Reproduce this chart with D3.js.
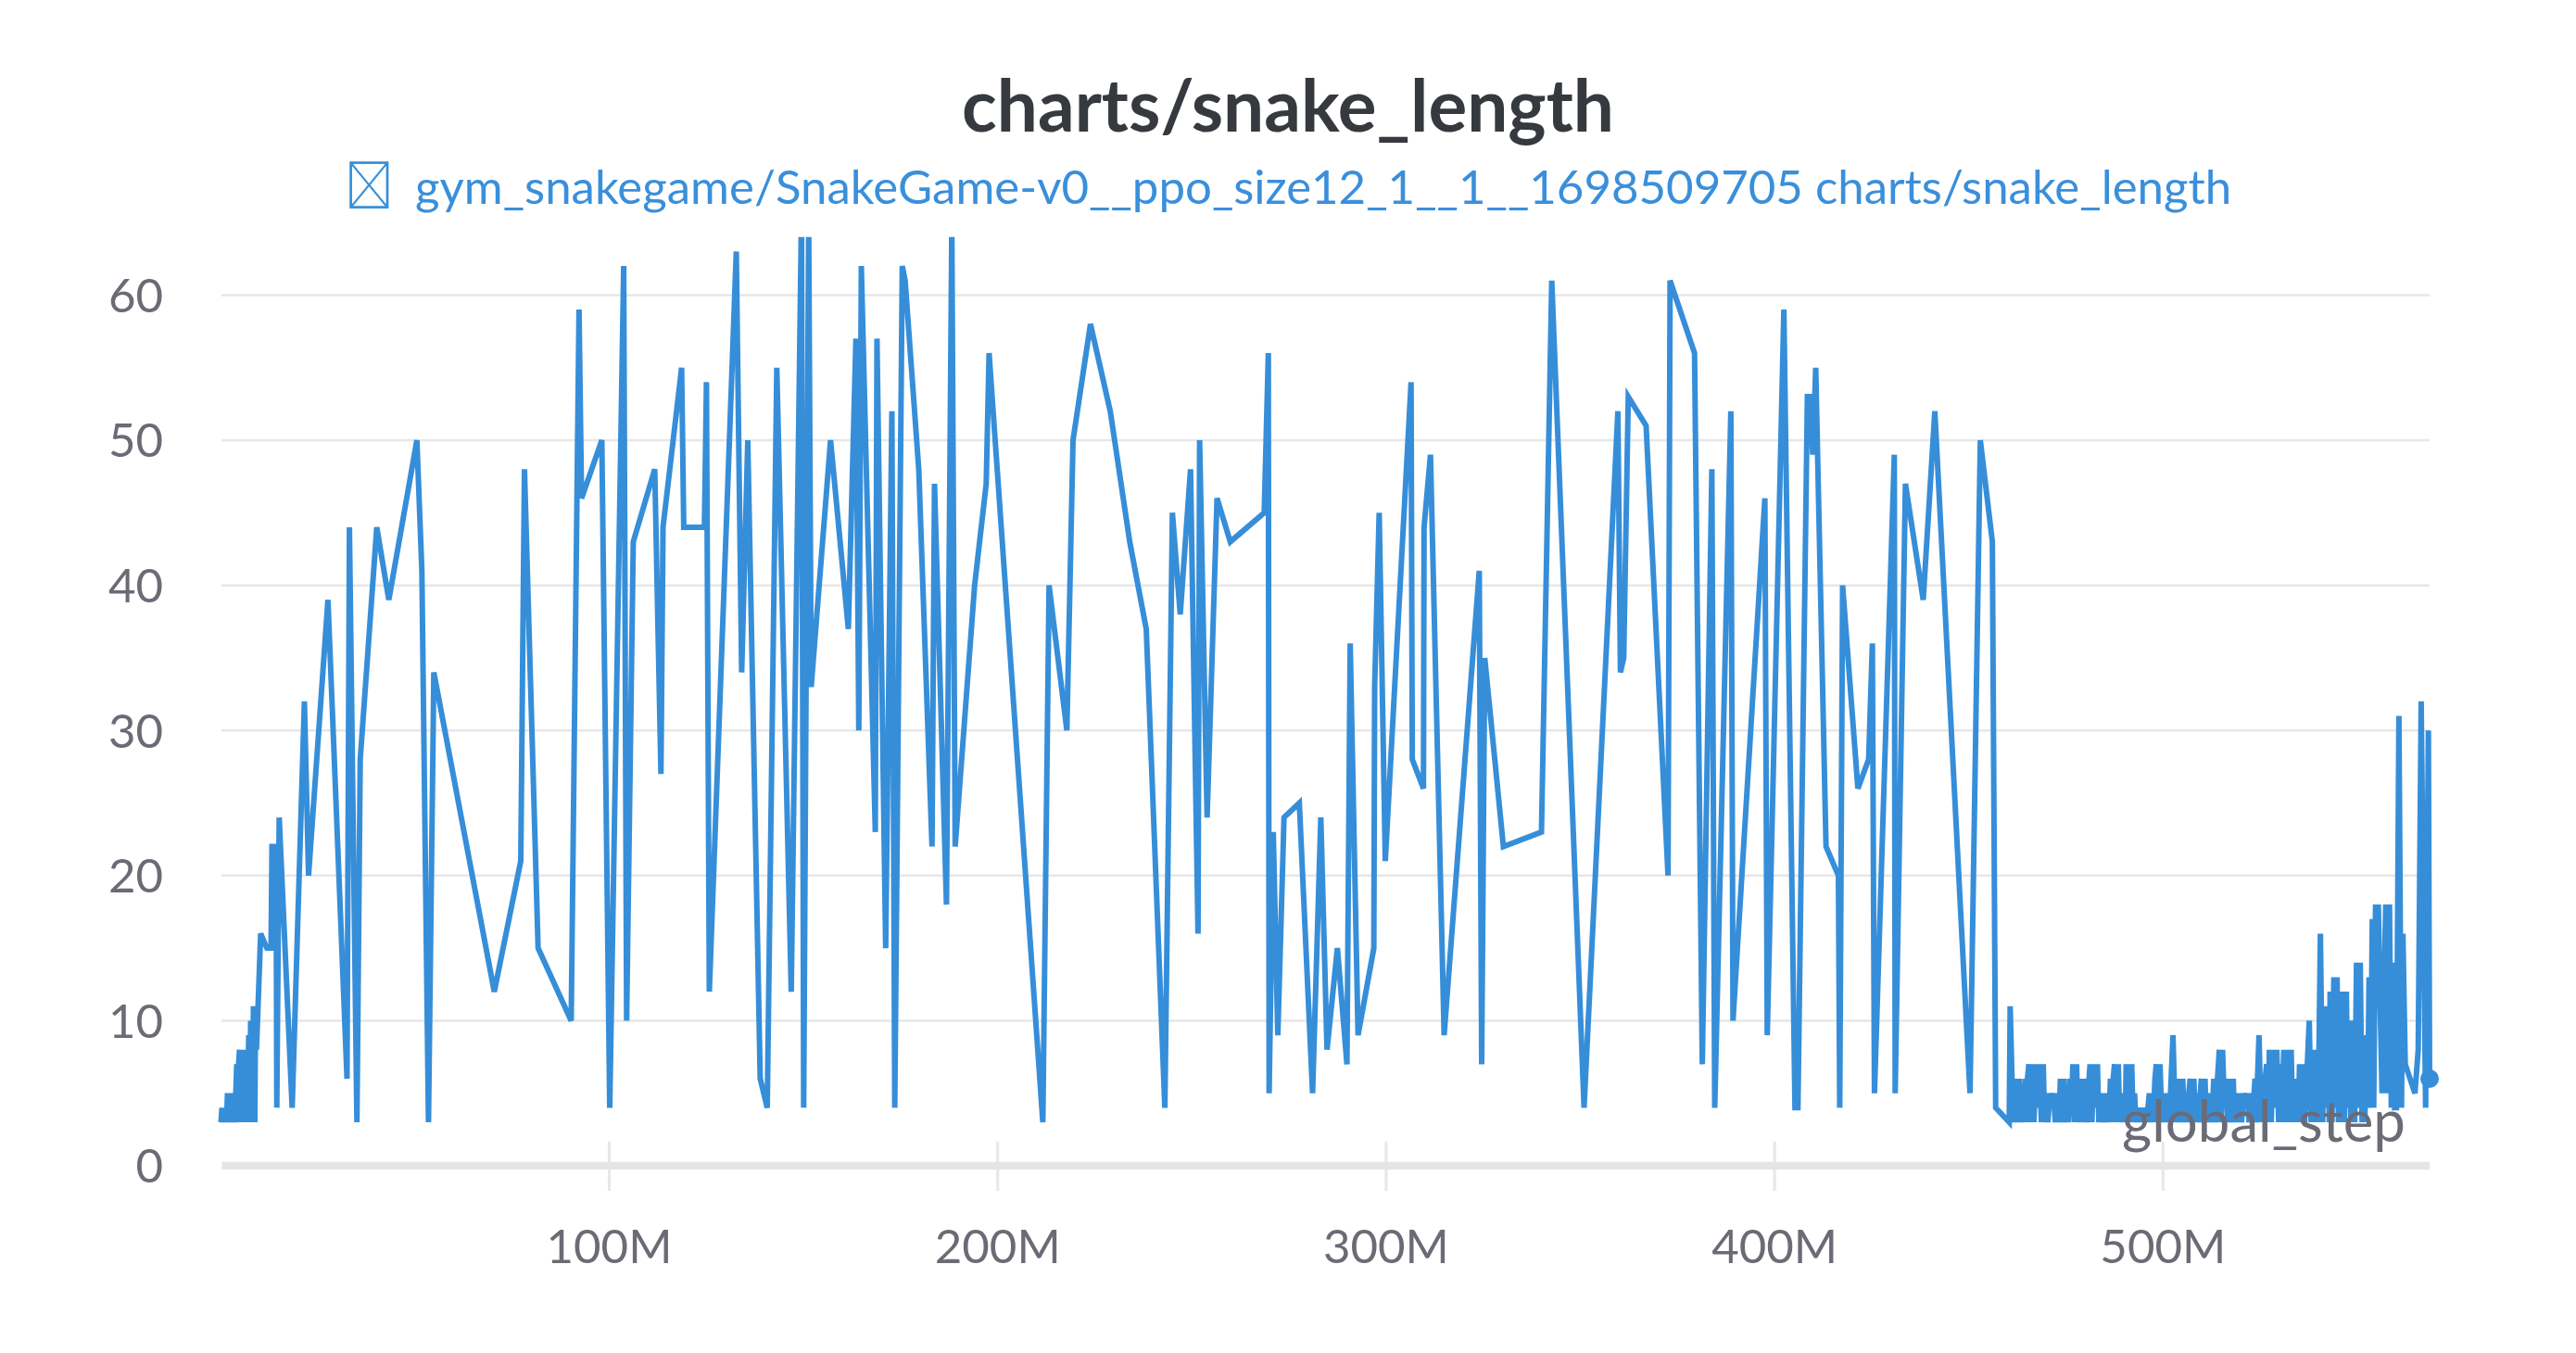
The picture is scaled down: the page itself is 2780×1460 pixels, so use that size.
<!DOCTYPE html>
<html><head><meta charset="utf-8">
<script src="https://cdn.jsdelivr.net/npm/d3@7"></script>
<style>
html,body{margin:0;padding:0;background:#fff;}
svg{display:block;}
</style></head><body>
<svg id="chart" width="2780" height="1460"></svg>
<script>
// ---------- data ----------
const chartTitle = "charts/snake_length";
const seriesName = "gym_snakegame/SnakeGame-v0__ppo_size12_1__1__1698509705 charts/snake_length";
const xAxisLabel = "global_step";
const yTicks = [0, 10, 20, 30, 40, 50, 60];
const xTicks = [100, 200, 300, 400, 500];            // millions of steps
const xTickLabels = ["100M", "200M", "300M", "400M", "500M"];

// [global_step (millions), snake_length]
const earlyPoints = [
[0.05,3],[0.29,4],[0.52,3],[0.76,4],[1.00,3],[1.24,4],[1.48,3],[1.72,5],[2.08,3],[2.43,5],[2.79,3],[3.15,5],[3.51,3],[3.86,5],
[4.10,7],[4.34,3],[4.58,7],[4.82,8],[5.06,3],[5.42,8],[5.77,3],[6.01,8],[6.37,6],[6.61,3],[6.97,6],[7.20,9],[7.44,3],[7.68,10],
[8.04,3],[8.40,11],[8.75,3],[8.95,11],[9.18,8],[10.26,16],[11.86,15],[12.93,15],[13.17,22],[14.24,22],[14.41,4],[15.03,24],
[18.37,4],[21.52,32],[22.59,20],[27.58,39],[32.49,6],[33.11,44],[35.04,3],[35.89,28],[40.15,44],[43.25,39],[50.48,50],[51.76,41],
[53.46,3],[54.84,34],[70.40,12],[77.22,21],[78.17,48],[81.68,15],[90.20,10],[92.22,59],[92.87,46],[98.09,50]
];
const middlePoints = [
[100.12,4],[103.72,62],[104.47,10],[106.18,43],[111.71,48],[113.31,27],[113.84,44],[118.63,55],[119.18,44],[124.50,44],[125.02,54],
[125.76,12],[132.70,63],[134.09,34],[135.66,50],[138.86,6],[140.67,4],[143.13,55],[146.85,12],[149.50,66],[150.05,4],[151.34,65],
[151.98,33],[156.97,50],[161.55,37],[163.50,57],[164.24,30],[164.89,62],[168.49,23],[168.92,57],[171.16,15],[172.76,52],[173.50,4],
[175.43,62],[176.17,61],[179.68,48],[183.09,22],[183.73,47],[186.81,18],[188.19,65],[189.05,22],[194.06,40],[197.04,47],[197.78,56],
[211.62,3],[213.22,40],[217.80,30],[219.39,50],[223.88,58],[228.98,52],[233.99,43],[238.24,37],[243.03,4],[244.97,45],[246.99,38],
[249.64,48],[251.57,16],[251.98,50],[253.91,24],[256.46,46],[259.88,43],[268.61,45],[269.67,56],[269.87,5],[270.94,23],[272.11,9],
[273.71,24],[277.65,25],[281.06,5],[283.18,24],[284.78,8],[287.45,15],[289.91,7],[290.74,36],[292.77,9],[296.83,15],[297.04,33],
[298.21,45],[299.78,21],[306.42,54],[306.73,28],[309.61,26],[309.76,44],[311.41,49],[314.93,9],[323.97,41],[324.59,7],[325.38,35],
[330.18,22],[339.98,23],[342.63,61],[350.95,4],[359.66,52],[360.31,34],[361.16,35],[362.33,53],[366.92,51],[372.57,20],[373.09,61],
[379.39,56],[381.39,7],[383.85,48],[384.59,4],[388.74,52],[389.29,10],[397.50,46],[398.11,9],[402.39,59],[405.25,4],[406.01,4],
[408.44,53],[409.04,53],[409.83,49],[410.59,55],[413.24,22],[416.43,20],[416.77,4],[417.51,40],[421.44,26],[424.21,28],[425.17,36],
[425.71,5],[430.82,49],[431.04,5],[433.68,47],[438.26,39],[441.25,52],[450.31,5],[452.96,50],[456.06,43],[456.92,4],[460.40,3],
[460.64,11],[461.40,3]
];
const latePoints = [
[462.00,6],[462.48,3],[462.95,6],[463.43,3],[463.79,5],[464.15,3],[464.50,6],[464.86,3],[465.10,6],[465.46,7],[465.82,3],[466.29,7],
[466.77,3],[467.25,7],[467.73,4],[468.20,7],[468.68,3],[469.16,7],[469.51,3],[469.87,5],[470.35,3],[470.83,5],[471.30,4],[471.78,5],
[472.26,3],[472.73,5],[473.21,3],[473.57,6],[474.04,3],[474.52,6],[474.88,3],[475.36,5],[475.71,3],[476.07,6],[476.43,4],[476.79,7],
[477.26,3],[477.74,7],[478.10,3],[478.34,5],[478.69,3],[479.05,6],[479.41,3],[479.65,6],[480.01,4],[480.36,3],[480.72,5],[481.20,7],
[481.68,3],[482.15,7],[482.63,4],[483.11,7],[483.47,3],[483.83,5],[484.30,3],[484.78,5],[485.26,3],[485.73,5],[486.09,3],[486.45,6],
[486.81,3],[487.17,6],[487.52,7],[488.00,3],[488.48,7],[488.84,3],[489.31,5],[489.67,3],[490.03,4],[490.27,3],[490.51,7],[490.94,3],
[491.34,7],[491.70,4],[491.94,7],[492.30,3],[492.66,5],[493.02,3],[493.37,4],[493.73,3],[494.09,4],[494.45,3],[494.81,4],[495.16,3],
[495.52,4],[495.88,3],[496.12,4],[496.48,5],[496.84,3],[497.19,5],[497.55,3],[497.91,6],[498.27,7],[498.75,3],[499.22,7],[499.58,4],
[499.82,5],[500.18,3],[500.54,5],[500.89,3],[501.25,4],[501.61,3],[502.56,9],[503.16,3],[503.64,5],[503.88,3],[504.12,6],[504.59,3],
[505.07,6],[505.43,3],[505.79,5],[506.26,3],[506.62,5],[506.98,6],[507.46,3],[507.93,6],[508.29,3],[508.65,5],[509.01,3],[509.37,4],
[509.84,6],[510.32,3],[510.80,6],[511.15,3],[511.51,5],[511.87,3],[512.23,4],[512.59,3],[513.06,6],[513.54,3],[514.02,6],[514.49,8],
[514.97,3],[515.33,8],[515.81,4],[516.16,6],[516.64,3],[517.12,6],[517.60,3],[518.07,6],[518.43,3],[518.79,5],[519.27,3],[519.74,5],
[520.22,3],[520.70,5],[521.17,4],[521.65,5],[522.13,3],[522.61,5],[523.08,3],[523.44,5],[523.68,6],[523.92,3],[524.71,9],[525.23,3],
[525.59,6],[525.95,3],[526.31,6],[526.67,7],[527.02,3],[527.38,8],[527.86,3],[528.34,8],[528.81,4],[529.29,8],[529.77,3],[530.13,7],
[530.60,3],[531.08,8],[531.56,3],[532.03,8],[532.51,3],[532.99,8],[533.35,3],[533.70,6],[534.06,3],[534.42,6],[534.78,3],[535.14,7],
[535.61,3],[536.09,7],[536.45,3],[536.81,5],[537.64,10],[538.12,3],[538.60,8],[539.07,3],[539.55,8],[539.91,3],[540.51,16],[541.10,3],
[541.46,11],[541.94,4],[542.42,11],[542.78,3],[543.01,12],[543.49,3],[543.97,13],[544.45,4],[544.80,13],[545.16,3],[545.52,11],
[545.88,3],[546.23,12],[546.71,3],[547.19,12],[547.55,4],[547.90,10],[548.38,3],[548.86,10],[549.34,3],[549.81,14],[550.29,4],
[550.77,14],[551.24,3],[551.60,7],[551.96,3],[552.32,9],[552.68,4],[553.04,13],[553.39,4],[553.87,17],[554.23,4],[554.71,18],
[555.18,11],[555.42,18],[555.90,11],[556.38,5],[557.33,18],[557.81,5],[558.29,18],[558.76,4],[559.12,14],[559.60,4],[560.08,4],
[560.72,31],[561.39,4],[561.75,16],[562.35,7],[564.85,5],[565.69,8],[566.45,32],[567.60,4],[568.31,30],[568.62,6]
];
const series = earlyPoints.concat(middlePoints, latePoints);

// ---------- layout ----------
const W = 2780, H = 1460;
const plotLeft = 238.3, plotRight = 2622, plotTop = 255.8, plotBottom = 1258;
const lineColor = "#368ed9";
const textGrey = "#6b6b76";
const font = "Lato, 'Noto Sans', sans-serif";

const svg = d3.select("#chart");
const x = d3.scaleLinear().domain([0, d3.max(series, d => d[0])]).range([plotLeft, plotRight]);
const y = d3.scaleLinear().domain([0, 64]).range([plotBottom, plotTop]);

function fitWidth(sel, target) {
  const w = sel.node().getComputedTextLength();
  const fs = parseFloat(sel.attr("font-size"));
  const nfs = fs * target / w;
  sel.attr("font-size", nfs);
  return nfs;
}

// grid lines
svg.append("g").selectAll("line").data(yTicks.filter(t => t > 0)).join("line")
  .attr("x1", 239).attr("x2", plotRight)
  .attr("y1", d => y(d)).attr("y2", d => y(d))
  .attr("stroke", "#e7e7e9").attr("stroke-width", 2.5);

// x tick marks
svg.append("g").selectAll("line").data(xTicks).join("line")
  .attr("x1", d => x(d)).attr("x2", d => x(d))
  .attr("y1", 1232).attr("y2", 1285)
  .attr("stroke", "#e7e7e9").attr("stroke-width", 3);

// bottom axis bar
svg.append("line").attr("x1", 239.5).attr("x2", plotRight)
  .attr("y1", y(0)).attr("y2", y(0))
  .attr("stroke", "#e5e5e8").attr("stroke-width", 8.5);

// tick labels
const probe = svg.append("text").attr("font-family", font).attr("font-size", 50).text(xTickLabels[0]);
const tickFs = fitWidth(probe, 136);
probe.remove();

svg.append("g").selectAll("text").data(xTicks).join("text")
  .attr("x", d => x(d)).attr("y", 1363)
  .attr("text-anchor", "middle")
  .attr("font-family", font).attr("font-size", tickFs).attr("fill", textGrey)
  .text((d, i) => xTickLabels[i]);

svg.append("g").selectAll("text").data(yTicks).join("text")
  .attr("x", 176).attr("y", d => y(d) + tickFs * 0.36)
  .attr("text-anchor", "end")
  .attr("font-family", font).attr("font-size", tickFs).attr("fill", textGrey)
  .text(d => d);

// line
svg.append("defs").append("clipPath").attr("id", "plotClip")
  .append("rect").attr("x", 0).attr("y", plotTop).attr("width", W).attr("height", H - plotTop);

const line = d3.line().x(d => x(d[0])).y(d => y(d[1]));
svg.append("path").datum(series)
  .attr("clip-path", "url(#plotClip)")
  .attr("d", line)
  .attr("fill", "none").attr("stroke", lineColor)
  .attr("stroke-width", 6).attr("stroke-linejoin", "miter").attr("stroke-miterlimit", 4);

const last = series[series.length - 1];
svg.append("circle").attr("cx", x(last[0])).attr("cy", y(last[1])).attr("r", 10).attr("fill", lineColor);

// x axis label (drawn on top of line)
const xl = svg.append("text").attr("x", 2596).attr("y", 1232)
  .attr("text-anchor", "end").attr("font-family", font).attr("font-size", 56)
  .attr("fill", textGrey).text(xAxisLabel);
fitWidth(xl, 306);

// title
const t = svg.append("text").attr("x", 1390).attr("y", 142)
  .attr("text-anchor", "middle").attr("font-family", font).attr("font-weight", 700)
  .attr("font-size", 76).attr("fill", "#36393d").text(chartTitle);
fitWidth(t, 704);

// legend
const lg = svg.append("g");
lg.append("rect").attr("x", 378.6).attr("y", 175.6).attr("width", 39.4).attr("height", 48)
  .attr("fill", "none").attr("stroke", lineColor).attr("stroke-width", 2.7);
lg.append("line").attr("x1", 378.6).attr("y1", 175.6).attr("x2", 418).attr("y2", 223.6)
  .attr("stroke", lineColor).attr("stroke-width", 2.2);
lg.append("line").attr("x1", 418).attr("y1", 175.6).attr("x2", 378.6).attr("y2", 223.6)
  .attr("stroke", lineColor).attr("stroke-width", 2.2);
const lt = lg.append("text").attr("x", 448).attr("y", 220)
  .attr("font-family", font).attr("font-size", 52).attr("fill", "#3a8fdb").text(seriesName);
fitWidth(lt, 1961);
</script>
</body></html>
